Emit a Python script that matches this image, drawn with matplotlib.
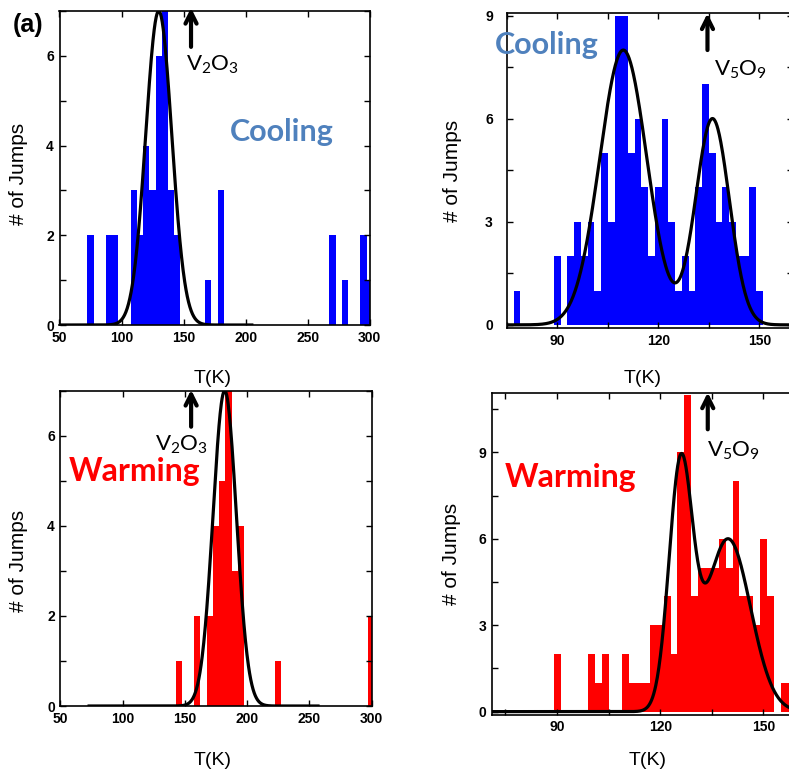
import numpy as np
import matplotlib
matplotlib.use("Agg")
import matplotlib.pyplot as plt

plt.rcParams['font.family'] = ['Liberation Sans', 'DejaVu Sans']
plt.rcParams['mathtext.default'] = 'regular'

W, H = 789, 779

# ---- data ----
# (a) top left: cooling, V2O3 (5 K bins)
cool1_T = [75, 90, 95, 110, 115, 120, 125, 130, 135, 140, 145, 170, 180, 270, 280, 295, 300]
cool1_n = [2, 2, 2, 3, 2, 4, 3, 6, 7, 3, 2, 1, 3, 2, 1, 2, 1]
# bottom left: warming, V2O3 (5 K bins)
warm1_T = [145, 160, 170, 175, 180, 185, 190, 195, 225, 300]
warm1_n = [1, 2, 2, 4, 5, 7, 3, 4, 1, 2]
# top right: cooling, V5O9 (2 K bins, 78 ... 150)
cool2_T = list(range(78, 151, 2))
cool2_n = [1, 0, 0, 0, 0, 0, 2, 0, 2, 3, 2, 3, 1, 5, 3, 9, 9, 5, 6, 4,
           2, 4, 6, 3, 1, 2, 1, 4, 7, 5, 3, 4, 3, 2, 2, 4, 1]
# bottom right: warming, V5O9 (2 K bins, 90 ... 158)
warm2_T = list(range(90, 159, 2))
warm2_n = [2, 0, 0, 0, 0, 2, 1, 2, 0, 0, 2, 1, 1, 1, 3, 3, 4, 2, 9, 11,
           4, 5, 5, 5, 6, 5, 8, 4, 4, 3, 6, 4, 0, 1, 1]

# gaussian fits: (amplitude, centre, sigma)
fit_cool1 = [(7.0, 130.0, 10.5)]
fit_warm1 = [(7.0, 182.0, 9.4)]
fit_cool2 = [(8.0, 109.6, 7.0), (6.0, 136.1, 5.0)]
fit_warm2 = [(8.3, 125.9, 3.4), (6.0, 139.7, 6.5)]


def gauss(x, peaks):
    y = np.zeros_like(x)
    for a, c, s in peaks:
        y += a * np.exp(-(x - c) ** 2 / (2 * s ** 2))
    return y


def add_ax(l, r, t, b):
    return fig.add_axes([l / W, 1 - b / H, (r - l) / W, (b - t) / H])


def style(ax, ypad=4):
    ax.tick_params(direction='in', top=True, right=True, length=4, width=1,
                   labelsize=10, pad=4)
    ax.tick_params(axis='y', pad=ypad)
    for lab in ax.get_xticklabels() + ax.get_yticklabels():
        lab.set_fontweight('bold')
    for sp in ax.spines.values():
        sp.set_linewidth(1.2)


fig = plt.figure(figsize=(W / 100, H / 100), dpi=100)

panels = [
    # axes px box, data, width, colour, fit, fit range, xlim, ylim
    dict(box=(59.5, 369.7, 11, 325), T=cool1_T, n=cool1_n, w=5, c='#0000ff',
         fit=fit_cool1, fr=(50, 205), xl=(50, 300), yl=(0, 7), ypad=4),
    dict(box=(506.8, 793, 13.3, 328.3), T=cool2_T, n=cool2_n, w=2, c='#0000ff',
         fit=fit_cool2, fr=(75.5, 160), xl=(75, 160), yl=(-0.1, 9.07), ypad=10),
    dict(box=(60.5, 371.5, 390.7, 706), T=warm1_T, n=warm1_n, w=5, c='#ff0000',
         fit=fit_warm1, fr=(73, 257), xl=(50, 300), yl=(0, 7), ypad=4),
    dict(box=(491.7, 797.9, 393.3, 714.5), T=warm2_T, n=warm2_n, w=2, c='#ff0000',
         fit=fit_warm2, fr=(71, 160), xl=(71, 160), yl=(-0.1, 11.05), ypad=4),
]

axes = []
for p in panels:
    ax = add_ax(*p['box'])
    ax.bar(p['T'], p['n'], width=p['w'], color=p['c'], linewidth=0)
    xs = np.linspace(p['fr'][0], p['fr'][1], 600)
    ax.plot(xs, gauss(xs, p['fit']), color='black', lw=2.3)
    axes.append(ax)

ax1, ax2, ax3, ax4 = axes

# ticks
for ax in (ax1, ax3):
    ax.set_xticks([50, 100, 150, 200, 250, 300])
    ax.set_yticks(range(0, 8))
    ax.set_yticklabels(['0', '', '2', '', '4', '', '6', ''])
for ax in (ax2, ax4):
    ax.set_xticks([75, 90, 105, 120, 135, 150])
    ax.set_xticklabels(['', '90', '', '120', '', '150'])
ax2.set_yticks(np.arange(0, 9.1, 1.5))
ax2.set_yticklabels(['0', '', '3', '', '6', '', '9'])
ax4.set_yticks(np.arange(0, 10.6, 1.5))
ax4.set_yticklabels(['0', '', '3', '', '6', '', '9', ''])

# limits last, so the tick lists cannot widen them
for ax, p in zip(axes, panels):
    ax.set_xlim(*p['xl'])
    ax.set_ylim(*p['yl'])
    style(ax, p['ypad'])

# axis labels
lab_pos = [((-0.102, 0.48), (0.495, -0.143)),
           ((-0.157, 0.50), (0.476, -0.133)),
           ((-0.104, 0.46), (0.49, -0.146)),
           ((-0.100, 0.50), (0.51, -0.118))]
for ax, (yp, xp) in zip(axes, lab_pos):
    ax.set_ylabel('# of Jumps', fontsize=15)
    ax.yaxis.set_label_coords(*yp)
    ax.set_xlabel('T(K)', fontsize=14)
    ax.xaxis.set_label_coords(*xp)

# arrows and phase labels
arrows = [(ax1, 156, 6.2, 7.07, 'V$_2$O$_3$', 173.6, 5.8),
          (ax3, 155, 6.2, 7.02, 'V$_2$O$_3$', 147.1, 5.8),
          (ax2, 134.6, 8.0, 9.07, 'V$_5$O$_9$', 144.3, 7.41),
          (ax4, 133.8, 9.8, 11.08, 'V$_5$O$_9$', 141.4, 9.05)]
for ax, xa, y0, y1, txt, tx, ty in arrows:
    ax.annotate('', xy=(xa, y1), xytext=(xa, y0), xycoords='data',
                arrowprops=dict(arrowstyle='->', lw=3, color='black',
                                mutation_scale=20, shrinkA=0, shrinkB=0),
                annotation_clip=False)
    ax.text(tx, ty, txt, ha='center', va='center', fontsize=16,
            family=['Lato', 'DejaVu Sans'])

blue_txt = '#4f81bd'
ax1.text(229, 4.31, 'Cooling', color=blue_txt, fontsize=22, fontweight='bold',
         ha='center', va='center', family=['Lato', 'DejaVu Sans'])
ax2.text(86.85, 8.14, 'Cooling', color=blue_txt, fontsize=22, fontweight='bold',
         ha='center', va='center', family=['Lato', 'DejaVu Sans'])
ax3.text(109.5, 5.21, 'Warming', color='#ff0000', fontsize=23, fontweight='bold',
         ha='center', va='center', family=['Lato', 'DejaVu Sans'])
ax4.text(93.9, 8.13, 'Warming', color='#ff0000', fontsize=23, fontweight='bold',
         ha='center', va='center', family=['Lato', 'DejaVu Sans'])

fig.text(28 / W, 1 - 25 / H, '(a)', fontsize=18, fontweight='bold',
         ha='center', va='center')

fig.savefig('out.png', dpi=100)
